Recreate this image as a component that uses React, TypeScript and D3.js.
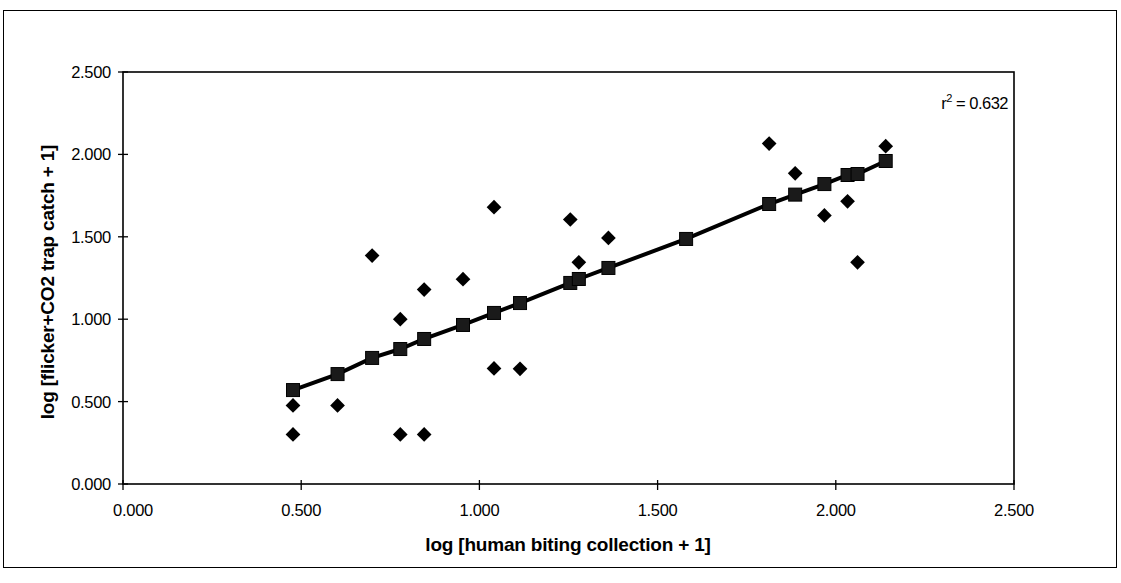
import React from 'react';
import * as d3 from 'd3';

// observed catches (diamonds)
const obsX = [0.477, 0.477, 0.602, 0.699, 0.778, 0.778, 0.845, 0.845, 0.954, 1.041, 1.041, 1.114, 1.255, 1.279, 1.362, 1.813, 1.886, 1.968, 2.033, 2.061, 2.140];
const obsY = [0.477, 0.301, 0.477, 1.386, 1.000, 0.301, 1.180, 0.301, 1.243, 1.680, 0.701, 0.699, 1.605, 1.345, 1.493, 2.066, 1.885, 1.630, 1.715, 1.345, 2.050];

// fitted values (squares on the regression line)
const fitX = [0.477, 0.602, 0.699, 0.778, 0.845, 0.954, 1.041, 1.114, 1.255, 1.279, 1.362, 1.580, 1.813, 1.886, 1.968, 2.033, 2.061, 2.140];
const fitY = [0.570, 0.667, 0.765, 0.819, 0.880, 0.965, 1.038, 1.098, 1.220, 1.244, 1.311, 1.487, 1.699, 1.756, 1.820, 1.875, 1.881, 1.960];

const xTicks = [0, 0.5, 1.0, 1.5, 2.0, 2.5];
const yTicks = [0, 0.5, 1.0, 1.5, 2.0, 2.5];

const rSquared = '0.632';
const xTitle = 'log [human biting collection + 1]';
const yTitle = 'log [flicker+CO2 trap catch + 1]';

const W = 1121;
const H = 583;
const left = 123, right = 1014, top = 72, bottom = 484;

const font = '"Liberation Sans", Arial, sans-serif';

export default function App() {
  const x = d3.scaleLinear().domain([0, 2.5]).range([left, right]);
  const y = d3.scaleLinear().domain([0, 2.5]).range([bottom, top]);

  const fitPts = fitX.map((v, i) => [v, fitY[i]] as [number, number]);
  const line = d3.line<[number, number]>()
    .x(d => x(d[0]))
    .y(d => y(d[1]));

  const fmt = d3.format('.3f');

  return (
    <svg width={W} height={H} style={{ position: 'absolute', left: 0, top: 0, background: '#fff' }}>
      {/* outer chart border */}
      <rect x={3.5} y={10.5} width={1113} height={557} fill="none" stroke="#000" strokeWidth={1} />

      {/* plot area */}
      <rect x={left} y={top} width={right - left} height={bottom - top} fill="none" stroke="#000" strokeWidth={1.6} />

      {/* y axis ticks */}
      {yTicks.map(t => (
        <g key={'y' + t}>
          <line x1={left - 5} x2={left + 5} y1={y(t)} y2={y(t)} stroke="#000" strokeWidth={1.3} />
          <text x={left - 12} y={y(t)} dy="0.36em" textAnchor="end" fontFamily={font} fontSize={16.5}
            letterSpacing={-0.3}>
            {fmt(t)}
          </text>
        </g>
      ))}

      {/* x axis ticks (first label nudged right like the original) */}
      {xTicks.map((t, i) => (
        <g key={'x' + t}>
          <line x1={x(t)} x2={x(t)} y1={bottom - 4} y2={bottom + 6} stroke="#000" strokeWidth={1.3} />
          <text x={x(t) + (i === 0 ? 10 : 0)} y={bottom + 32} textAnchor="middle" fontFamily={font} fontSize={16.5}
            letterSpacing={-0.3}>
            {fmt(t)}
          </text>
        </g>
      ))}

      {/* regression line */}
      <path d={line(fitPts) as string} fill="none" stroke="#000" strokeWidth={4} />
      {fitPts.map((d, i) => (
        <rect key={'f' + i} x={x(d[0]) - 6.5} y={y(d[1]) - 6.5} width={13} height={13}
          fill="#1a1a1a" stroke="#000" strokeWidth={1} />
      ))}

      {/* observed */}
      {obsX.map((v, i) => (
        <rect key={'o' + i} x={-5.2} y={-5.2} width={10.4} height={10.4} fill="#000"
          transform={`translate(${x(v)},${y(obsY[i])}) rotate(45)`} />
      ))}

      <text x={1008} y={109} textAnchor="end" fontFamily={font} fontSize={16.5} letterSpacing={-0.5}>
        r<tspan dy={-7} fontSize={11}>2</tspan><tspan dy={7}> = {rSquared}</tspan>
      </text>

      <text x={568} y={551} textAnchor="middle" fontFamily={font} fontSize={19} fontWeight="bold"
        letterSpacing={-0.2}>
        {xTitle}
      </text>
      <text transform={`translate(54,282) rotate(-90)`} textAnchor="middle"
        fontFamily={font} fontSize={19} fontWeight="bold" letterSpacing={-0.2}>
        {yTitle}
      </text>
    </svg>
  );
}
